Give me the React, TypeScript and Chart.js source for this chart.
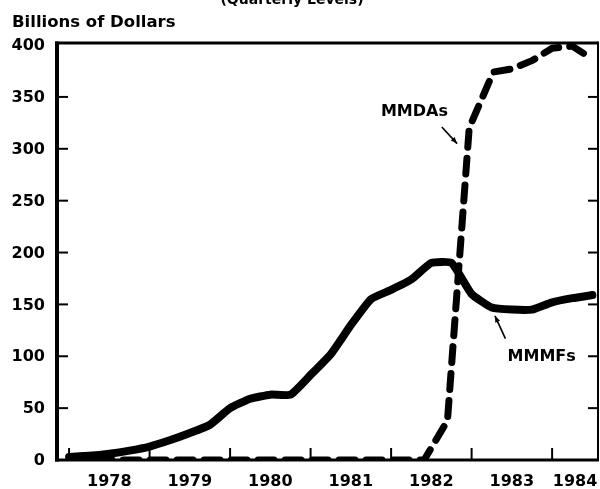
import React, { useEffect, useRef } from 'react';
import { Chart, registerables } from 'chart.js';

Chart.register(...registerables);

// ---- data ----
const mmmfDates = [
  1978.0, 1978.25, 1978.5, 1978.75,
  1979.0, 1979.25, 1979.5, 1979.75,
  1980.0, 1980.25, 1980.5, 1980.75,
  1981.0, 1981.25, 1981.5, 1981.75,
  1982.0, 1982.25, 1982.5, 1982.75,
  1983.0, 1983.25, 1983.5, 1983.75,
  1984.0, 1984.25, 1984.5,
];
const mmmfValues = [
  3, 4, 6, 9,
  13, 19, 26, 34,
  50, 59, 63, 63,
  82, 102, 130, 155,
  164, 174, 190, 190,
  160, 147, 145, 145,
  152, 156, 159,
];
const mmdaDates = [1978.0, 1982.41, 1982.7, 1982.97, 1983.27, 1983.5, 1983.75, 1984.0, 1984.25, 1984.47];
const mmdaValues = [0, 0, 38, 320, 374, 377, 385, 397, 399, 388];

const yTicks = [0, 50, 100, 150, 200, 250, 300, 350, 400];
const yearTicks = [1978, 1979, 1980, 1981, 1982, 1983, 1984];
const yearLabels = ['1978', '1979', '1980', '1981', '1982', '1983', '1984'];

const X_MIN = 1977.85;
const X_MAX = 1984.57;
const Y_MIN = 0;
const Y_MAX = 402;

const FONT = '"DejaVu Sans", sans-serif';

function labelPositions(): number[] {
  return yearTicks.map((yr) => {
    const end = Math.min(yr + 1, X_MAX);
    return (yr + end) / 2;
  });
}

function drawArrow(ctx: CanvasRenderingContext2D, x1: number, y1: number, x2: number, y2: number) {
  ctx.beginPath();
  ctx.moveTo(x1, y1);
  ctx.lineTo(x2, y2);
  ctx.lineWidth = 1.6;
  ctx.stroke();
  const ang = Math.atan2(y2 - y1, x2 - x1);
  const len = 7;
  const w = 0.38;
  ctx.beginPath();
  ctx.moveTo(x2, y2);
  ctx.lineTo(x2 - len * Math.cos(ang - w), y2 - len * Math.sin(ang - w));
  ctx.lineTo(x2 - len * Math.cos(ang + w), y2 - len * Math.sin(ang + w));
  ctx.closePath();
  ctx.fill();
}

const framePlugin = {
  id: 'framePlugin',
  beforeDraw(chart: any) {
    const ctx = chart.ctx as any;
    ctx.save();
    ctx.fillStyle = '#fff';
    ctx.fillRect(0, 0, chart.width, chart.height);
    ctx.restore();
  },
  afterDraw(chart: any) {
    const ctx = chart.ctx as CanvasRenderingContext2D;
    const a = chart.chartArea;
    const xs = chart.scales.x;
    const ys = chart.scales.y;
    ctx.save();
    ctx.strokeStyle = '#000';
    ctx.fillStyle = '#000';
    ctx.lineCap = 'butt';

    const seg = (x1: number, y1: number, x2: number, y2: number, w: number) => {
      ctx.beginPath();
      ctx.lineWidth = w;
      ctx.moveTo(x1, y1);
      ctx.lineTo(x2, y2);
      ctx.stroke();
    };

    // frame
    seg(a.left, a.top - 1.5, a.left, a.bottom + 1.5, 4);
    seg(a.left - 2, a.top, a.right, a.top, 3);
    seg(a.right, a.top - 1.5, a.right, a.bottom, 2);
    seg(a.left - 2, a.bottom, a.right + 1, a.bottom, 3);

    // inward ticks on y axes
    yTicks.forEach((v) => {
      if (v === 0 || v === 400) return;
      const py = ys.getPixelForValue(v);
      seg(a.left, py, a.left + 11, py, 2);
      seg(a.right, py, a.right - 10, py, 2);
    });
    // inward ticks on x axis
    yearTicks.forEach((yr) => {
      const px = xs.getPixelForValue(yr);
      seg(px, a.bottom, px, a.bottom - 12, 2);
    });

    // texts
    ctx.textBaseline = 'alphabetic';
    ctx.font = `bold 16.5px ${FONT}`;
    ctx.textAlign = 'left';
    ctx.fillText('Billions of Dollars', 12, 27);

    ctx.font = `bold 14px ${FONT}`;
    ctx.textAlign = 'center';
    ctx.fillText('(Quarterly Levels)', 292, 4);

    ctx.font = `bold 16px ${FONT}`;
    ctx.textBaseline = 'middle';
    ctx.fillText('MMDAs', xs.getPixelForValue(1982.29), ys.getPixelForValue(336));
    ctx.fillText('MMMFs', xs.getPixelForValue(1983.87), ys.getPixelForValue(99));

    drawArrow(
      ctx,
      xs.getPixelForValue(1982.63), ys.getPixelForValue(321),
      xs.getPixelForValue(1982.82), ys.getPixelForValue(305)
    );
    drawArrow(
      ctx,
      xs.getPixelForValue(1983.42), ys.getPixelForValue(117),
      xs.getPixelForValue(1983.29), ys.getPixelForValue(139)
    );
    ctx.restore();
  },
};

export default function App() {
  const canvasRef = useRef<HTMLCanvasElement | null>(null);

  useEffect(() => {
    if (!canvasRef.current) return;
    const chart = new Chart(canvasRef.current, {
      type: 'line',
      data: {
        datasets: [
          {
            label: 'MMMFs',
            data: mmmfDates.map((d, i) => ({ x: d, y: mmmfValues[i] })),
            borderColor: '#000',
            borderWidth: 8,
            borderJoinStyle: 'round',
            borderCapStyle: 'round',
            pointRadius: 0,
            tension: 0.15,
            fill: false,
          },
          {
            label: 'MMDAs',
            data: mmdaDates.map((d, i) => ({ x: d, y: mmdaValues[i] })),
            borderColor: '#000',
            borderWidth: 7,
            borderDash: [16, 11],
            borderJoinStyle: 'round',
            borderCapStyle: 'round',
            pointRadius: 0,
            tension: 0,
            fill: false,
          },
        ],
      },
      options: {
        animation: false,
        responsive: true,
        maintainAspectRatio: false,
        layout: { padding: { top: 43, right: 2, left: 0, bottom: 0 } },
        plugins: {
          legend: { display: false },
          tooltip: { enabled: false },
          title: { display: false },
        },
        scales: {
          x: {
            type: 'linear',
            min: X_MIN,
            max: X_MAX,
            grid: { display: false, drawTicks: false },
            border: { display: false },
            afterBuildTicks: (scale: any) => {
              scale.ticks = labelPositions().map((v) => ({ value: v }));
            },
            afterFit: (scale: any) => {
              scale.height = 29;
              scale.paddingLeft = 0;
              scale.paddingRight = 0;
            },
            ticks: {
              autoSkip: false,
              maxRotation: 0,
              padding: 12,
              color: '#000',
              font: { family: FONT, size: 16, weight: 'bold' },
              callback: (_v: any, i: number) => yearLabels[i],
            },
          },
          y: {
            type: 'linear',
            min: Y_MIN,
            max: Y_MAX,
            grid: { display: false, drawTicks: false },
            border: { display: false },
            afterBuildTicks: (scale: any) => {
              scale.ticks = yTicks.map((v) => ({ value: v }));
            },
            afterFit: (scale: any) => {
              scale.width = 57;
              scale.paddingTop = 0;
              scale.paddingBottom = 0;
            },
            ticks: {
              autoSkip: false,
              padding: 12,
              labelOffset: 1,
              color: '#000',
              font: { family: FONT, size: 16, weight: 'bold' },
              callback: (v: any) => String(v),
            },
          },
        },
      },
      plugins: [framePlugin],
    } as any);
    return () => chart.destroy();
  }, []);

  return (
    <div style={{ position: 'fixed', left: 0, top: 0, width: 600, height: 489, background: '#fff' }}>
      <canvas ref={canvasRef} />
    </div>
  );
}
